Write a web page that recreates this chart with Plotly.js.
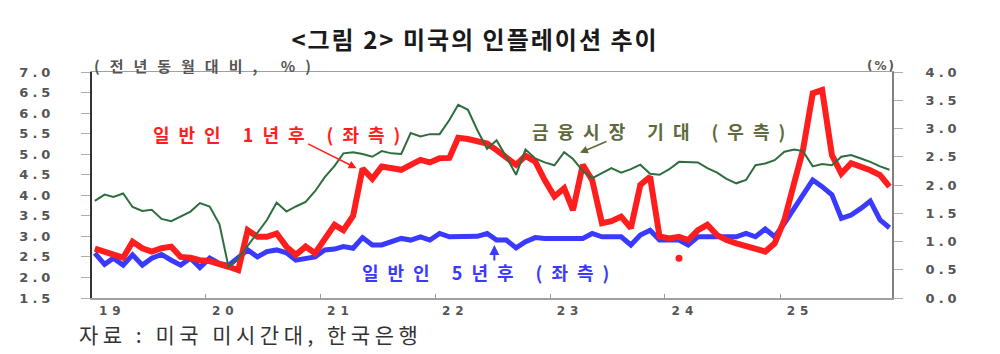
<!DOCTYPE html>
<html>
<head>
<meta charset="utf-8">
<script src="https://cdn.plot.ly/plotly-3.0.1.min.js"></script>
<style>
  html, body { margin: 0; padding: 0; background: #fff; }
  #chart { width: 1000px; height: 354px; }
  .ytick text, .y2tick text { letter-spacing: 4px; }
  .xtick text { letter-spacing: 5px; }
  .gtitle { letter-spacing: 2px; }
  g.annotation[data-index="0"] text.annotation-text { letter-spacing: 10px; }
  g.annotation[data-index="1"] text.annotation-text { letter-spacing: 2px; }
  g.annotation[data-index="2"] text.annotation-text { letter-spacing: 9px; }
  g.annotation[data-index="3"] text.annotation-text { letter-spacing: 9px; }
  g.annotation[data-index="4"] text.annotation-text { letter-spacing: 9px; }
  g.annotation[data-index="5"] text.annotation-text { letter-spacing: 4.5px; }
</style>
</head>
<body>
<div id="chart"></div>
<script>
// ---- data (monthly, Jan 2019 - Dec 2025) ----
const startYear = 2019, endYear = 2025;
const months = [];
for (let y = startYear; y <= endYear; y++) {
  for (let m = 1; m <= 12; m++) months.push(y + '-' + String(m).padStart(2, '0') + '-15');
}

// 일반인 1년후 (좌측), %
const oneYearAhead = [
  2.70,2.63,2.55,2.48,2.87,2.71,2.63,2.71,2.75,2.50,2.48,2.42,
  2.40,2.34,2.26,2.18,3.15,2.99,2.99,3.07,2.75,2.55,2.75,2.59,
  2.95,3.28,3.15,3.50,4.65,4.40,4.70,4.65,4.62,4.74,4.86,4.80,
  4.90,4.91,5.40,5.37,5.32,5.26,5.10,4.90,4.74,4.96,4.82,4.37,
  3.97,4.17,3.64,4.74,4.37,3.32,3.37,3.48,3.20,4.25,4.45,3.00,
  2.95,2.99,2.91,3.15,3.28,3.03,2.91,2.83,2.75,2.71,2.63,2.83,
  3.40,4.30,5.10,6.48,6.56,4.98,4.53,4.78,4.70,4.61,4.49,4.21
];

// 일반인 5년후 (좌측), %
const fiveYearAhead = [
  2.59,2.32,2.47,2.30,2.55,2.30,2.47,2.56,2.42,2.30,2.47,2.24,
  2.47,2.34,2.29,2.50,2.67,2.50,2.63,2.67,2.60,2.42,2.47,2.50,
  2.67,2.69,2.75,2.71,2.97,2.79,2.79,2.87,2.95,2.91,2.99,2.91,
  3.07,2.99,3.00,3.00,3.00,3.07,2.91,2.91,2.72,2.87,2.97,2.95,
  2.95,2.95,2.95,2.95,3.07,2.99,2.99,2.99,2.79,3.03,3.15,2.91,
  2.91,2.91,2.79,2.99,2.99,2.99,2.99,2.99,3.07,2.99,3.18,2.99,
  3.32,3.68,4.05,4.37,4.21,4.01,3.44,3.52,3.68,3.86,3.40,3.21
];

// 금융시장 기대 (우측), %
const marketExpect = [
  1.72,1.83,1.79,1.85,1.61,1.54,1.56,1.40,1.36,1.44,1.53,1.68,
  1.62,1.31,0.55,0.70,0.92,1.15,1.38,1.69,1.53,1.62,1.70,1.89,
  2.14,2.34,2.56,2.58,2.55,2.50,2.60,2.56,2.55,2.92,2.86,2.90,
  2.90,3.15,3.42,3.33,2.97,2.64,2.79,2.50,2.18,2.63,2.47,2.40,
  2.35,2.58,2.46,2.25,2.12,2.21,2.30,2.22,2.28,2.36,2.20,2.18,
  2.28,2.41,2.41,2.40,2.30,2.22,2.11,2.03,2.09,2.35,2.38,2.44,
  2.59,2.63,2.60,2.33,2.37,2.35,2.50,2.53,2.47,2.41,2.33,2.27
];

// isolated red point seen in the source
const strayDates = ['2024-02-15'];
const strayValues = [2.47];

// x-axis ticks
const xTickVals = ['2019-01-07','2020-01-01','2021-01-01','2022-01-01','2023-01-01','2024-01-01','2025-01-01'];
const xTickText = ['19','20','21','22','23','24','25'];

const RED = '#ff1e1e', BLUE = '#3a3aff', GREEN = '#2e6e3e', OLIVE = '#5d6a3c';
const tickFont = {family: 'DejaVu Sans', size: 13, color: '#555', weight: 'bold'};
const xTickFont = {family: 'DejaVu Sans', size: 12, color: '#555', weight: 'bold'};
const krFont = 'Noto Sans CJK KR';

const traces = [
  {x: months, y: fiveYearAhead, type: 'scatter', mode: 'lines', name: '일반인 5년후 (좌측)',
   line: {color: BLUE, width: 5}, yaxis: 'y'},
  {x: months, y: oneYearAhead, type: 'scatter', mode: 'lines', name: '일반인 1년후 (좌측)',
   line: {color: RED, width: 6}, yaxis: 'y'},
  {x: strayDates, y: strayValues, type: 'scatter', mode: 'markers', name: '',
   marker: {color: RED, size: 7, symbol: 'circle'}, yaxis: 'y'},
  {x: months, y: marketExpect, type: 'scatter', mode: 'lines', name: '금융시장 기대 (우측)',
   line: {color: GREEN, width: 2}, yaxis: 'y2'}
];

const layout = {
  width: 1000, height: 354,
  margin: {l: 92, r: 108, t: 72, b: 56},
  paper_bgcolor: '#fff', plot_bgcolor: '#fff',
  showlegend: false,
  title: {text: '<그림 2> 미국의 인플레이션 추이', x: 0.475, xref: 'container', xanchor: 'center',
          y: 0.885, yref: 'container', yanchor: 'middle',
          font: {family: krFont, size: 24, color: '#1a1a1a', weight: 'bold'}},
  xaxis: {
    type: 'date', range: ['2019-01-06', '2025-12-23'],
    tickmode: 'array', tickvals: xTickVals, ticktext: xTickText,
    ticks: 'inside', ticklen: 4, tickcolor: '#999', tickwidth: 1,
    ticklabelshift: 20, ticklabelstandoff: 1,
    showline: true, linecolor: '#a0a0a0', linewidth: 1.5, mirror: true,
    showgrid: false, zeroline: false, tickfont: xTickFont, fixedrange: true
  },
  yaxis: {
    range: [1.5, 7.0], dtick: 0.5, tick0: 1.5, tickformat: '.1f',
    ticks: 'outside', ticklen: 9, tickcolor: '#b0b0b0', tickwidth: 1,
    ticklabelstandoff: 24,
    showline: true, linecolor: '#333', linewidth: 2,
    showgrid: false, zeroline: false, tickfont: tickFont, fixedrange: true
  },
  yaxis2: {
    overlaying: 'y', side: 'right', range: [0, 4.0], dtick: 0.5, tick0: 0, tickformat: '.1f',
    ticks: 'outside', ticklen: 9, tickcolor: '#b0b0b0', tickwidth: 1,
    ticklabelstandoff: 20,
    showline: true, linecolor: '#808080', linewidth: 2,
    showgrid: false, zeroline: false, tickfont: tickFont, fixedrange: true
  },
  annotations: [
    {text: '(전년동월대비, %)', xref: 'paper', yref: 'paper', x: 0, y: 1.027,
     xanchor: 'left', yanchor: 'middle', align: 'left', showarrow: false,
     font: {family: krFont, size: 15, color: '#555', weight: 'bold'}},
    {text: '(%)', xref: 'paper', yref: 'paper', x: 1.008, y: 1.027,
     xanchor: 'right', yanchor: 'middle', align: 'right', showarrow: false,
     font: {family: 'DejaVu Sans', size: 12, color: '#555', weight: 'bold'}},
    {text: '일반인 1년후 (좌측)', xref: 'x', yref: 'y', x: '2019-07-14', y: 5.49,
     xanchor: 'left', yanchor: 'middle', align: 'left', showarrow: false,
     font: {family: krFont, size: 18, color: RED, weight: 'bold'}},
    {text: '금융시장 기대 (우측)', xref: 'x', yref: 'y2', x: '2022-10-28', y: 2.96,
     xanchor: 'left', yanchor: 'middle', align: 'left', showarrow: false,
     font: {family: krFont, size: 18, color: OLIVE, weight: 'bold'}},
    {text: '일반인 5년후 (좌측)', xref: 'x', yref: 'y', x: '2021-05-06', y: 2.13,
     xanchor: 'left', yanchor: 'middle', align: 'left', showarrow: false,
     font: {family: krFont, size: 18, color: BLUE, weight: 'bold'}},
    {text: '자료 : 미국 미시간대, 한국은행', xref: 'paper', yref: 'paper', x: -0.019, y: -0.161,
     xanchor: 'left', yanchor: 'middle', align: 'left', showarrow: false,
     font: {family: krFont, size: 21, color: '#333'}},
    {text: '', xref: 'x', yref: 'y', x: '2021-04-26', y: 4.66, ax: -50, ay: -25,
     showarrow: true, arrowhead: 2, arrowsize: 1, arrowwidth: 1.6, arrowcolor: RED, standoff: 0},
    {text: '', xref: 'x', yref: 'y2', x: '2023-04-06', y: 2.57, ax: 28, ay: -12,
     showarrow: true, arrowhead: 2, arrowsize: 1, arrowwidth: 1.6, arrowcolor: OLIVE, standoff: 0},
    {text: '', xref: 'x', yref: 'y', x: '2022-07-08', y: 2.79, ax: 0, ay: 17,
     showarrow: true, arrowhead: 2, arrowsize: 1, arrowwidth: 2, arrowcolor: BLUE, standoff: 0}
  ]
};

Plotly.newPlot('chart', traces, layout, {staticPlot: true, displayModeBar: false});
</script>
</body>
</html>
